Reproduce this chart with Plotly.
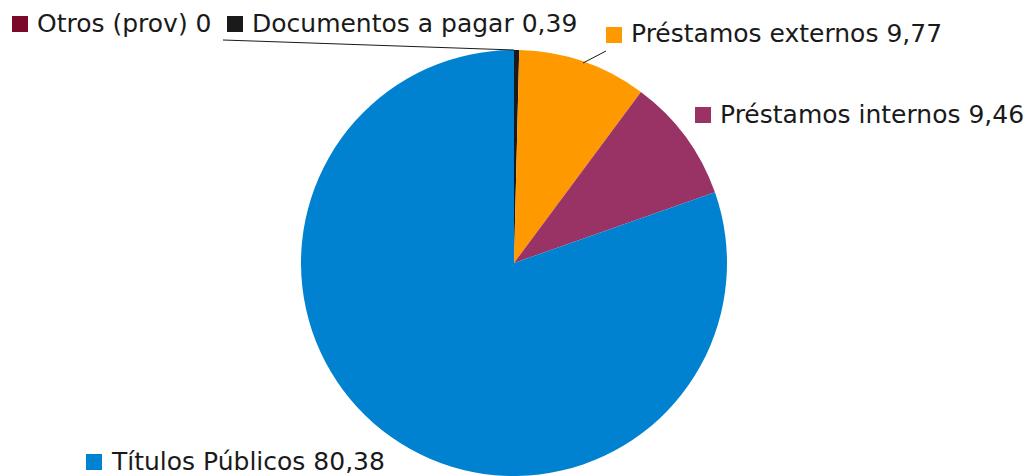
import plotly.graph_objects as go

# Composición de la deuda (%)
categorias = ["Otros (prov)", "Documentos a pagar", "Préstamos externos",
              "Préstamos internos", "Títulos Públicos"]
valores = [0, 0.39, 9.77, 9.46, 80.38]
etiquetas = ["0", "0,39", "9,77", "9,46", "80,38"]
colores = ["#7B0A2A", "#1A1A1A", "#FF9900", "#993366", "#0082D0"]

W, H = 1030, 476
FONT = "DejaVu Sans"

fig = go.Figure(go.Pie(
    labels=categorias,
    values=valores,
    sort=False,
    direction="clockwise",
    rotation=0,
    marker=dict(colors=colores, line=dict(width=0)),
    textinfo="none",
    hoverinfo="label+value",
    showlegend=False,
    domain=dict(x=[301 / W, 727 / W], y=[0, 1 - 50 / H]),
))

# Rótulos: esquina del cuadro de color (px) y línea base del texto
pos_rotulos = [(12, 32), (227, 32), (606, 43), (695, 123), (86, 470)]
LADO = 16

for cat, val, col, (px, base) in zip(categorias, etiquetas, colores, pos_rotulos):
    fig.add_shape(type="rect", xref="paper", yref="paper",
                  x0=px / W, x1=(px + LADO) / W,
                  y0=1 - base / H, y1=1 - (base - LADO) / H,
                  fillcolor=col, line=dict(width=0))
    fig.add_annotation(
        x=(px + LADO + 8) / W, y=1 - (base - 9) / H, xref="paper", yref="paper",
        xanchor="left", yanchor="middle", showarrow=False, borderpad=0,
        text=f"{cat} {val}",
        font=dict(family=FONT, size=25, color="#1A1A1A"),
    )

# Líneas guía
for (x0, y0, x1, y1) in [(223, 40, 514, 50), (606, 51, 583, 63)]:
    fig.add_shape(type="line", xref="paper", yref="paper",
                  x0=x0 / W, y0=1 - y0 / H, x1=x1 / W, y1=1 - y1 / H,
                  line=dict(color="#1A1A1A", width=1))

fig.update_layout(
    width=W, height=H,
    margin=dict(l=0, r=0, t=0, b=0),
    paper_bgcolor="white", plot_bgcolor="white",
)

fig.write_html("out.html")
